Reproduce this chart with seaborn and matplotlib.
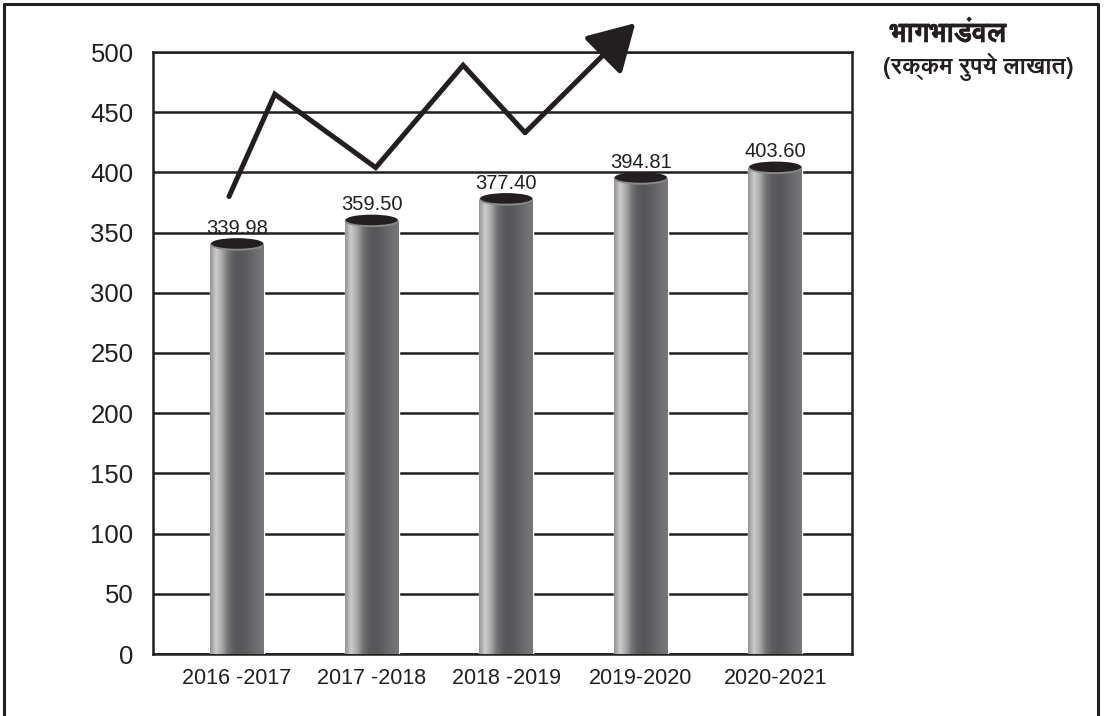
import numpy as np
import pandas as pd
import matplotlib
matplotlib.use("Agg")
import matplotlib.pyplot as plt
import seaborn as sns
from matplotlib.patches import Ellipse
from matplotlib.lines import Line2D
from matplotlib import font_manager as fm
from matplotlib.ft2font import FT2Font
import matplotlib.patheffects as pe

# ---------------- data ----------------
years = ["2016 -2017", "2017 -2018", "2018 -2019", "2019-2020", "2020-2021"]
capital = [339.98, 359.50, 377.40, 394.81, 403.60]
value_labels = ["339.98", "359.50", "377.40", "394.81", "403.60"]
y_ticks = [0, 50, 100, 150, 200, 250, 300, 350, 400, 450, 500]
title_text = "भागभाडंवल"
subtitle_text = "(रक्कम रुपये लाखात)"
# decorative trend arrow (x in category units, y in axis units)
trend_x = [-0.06, 0.28, 1.03, 1.68, 2.14, 2.96]
trend_y = [380, 465, 404, 489, 433, 524]

# ---------------- fonts ----------------
sns.set_theme(style="white")
plt.rcParams['font.family'] = ['Liberation Sans', 'DejaVu Sans']

deva_regular, deva_bold = None, None
for f in fm.fontManager.ttflist:
    try:
        ft = FT2Font(f.fname)
        if ft.get_char_index(0x092D) and ft.get_char_index(0x0932):
            w = f.weight if isinstance(f.weight, int) else (700 if 'bold' in str(f.weight).lower() else 400)
            if w >= 600 and deva_bold is None:
                deva_bold = f.name
            if deva_regular is None:
                deva_regular = f.name
    except Exception:
        pass
deva_family = deva_bold or deva_regular
deva_fams = ([deva_family] if deva_family else []) + ['Liberation Sans', 'DejaVu Sans']
stroke_w = 0.3 if deva_bold else 0.9
fake_bold = [pe.withStroke(linewidth=stroke_w, foreground='#231f20')]

# ---------------- figure ----------------
fig = plt.figure(figsize=(11.08, 7.16), dpi=100)
ax = fig.add_axes([153/1108, 1-654/716, (852-153)/1108, (654-52)/716])

df = pd.DataFrame({"year": years, "value": capital})
sns.barplot(data=df, x="year", y="value", color="#5a5a5b", width=0.40,
            ax=ax, zorder=3, saturation=1)

# cylinder shading
grad_cols = np.array([
    [0.58, 0.58, 0.59], [0.80, 0.80, 0.80], [0.66, 0.66, 0.66],
    [0.45, 0.45, 0.46], [0.36, 0.36, 0.37], [0.34, 0.34, 0.35],
    [0.36, 0.36, 0.37], [0.40, 0.40, 0.41], [0.44, 0.44, 0.45],
    [0.47, 0.47, 0.48],
])
xs = np.linspace(0, 1, len(grad_cols))
xi = np.linspace(0, 1, 200)
grad = np.stack([np.interp(xi, xs, grad_cols[:, c]) for c in range(3)], axis=-1)[None, :, :]

ell_h = 10.0
for patch in ax.patches[:len(capital)]:
    x0 = patch.get_x()
    w = patch.get_width()
    h = patch.get_height()
    im = ax.imshow(grad, extent=[x0, x0 + w, 0, h], aspect='auto', zorder=3.5,
                   interpolation='bilinear')
    im.set_clip_path(patch)
    cx = x0 + w / 2
    ax.add_patch(Ellipse((cx, h), w, ell_h, facecolor='#8a8a8a', edgecolor='none', zorder=4))
    ax.add_patch(Ellipse((cx, h + 1.0), w * 0.97, ell_h * 0.88, facecolor='#231f20',
                         edgecolor='none', zorder=4.2))

for i, (v, lab) in enumerate(zip(capital, value_labels)):
    ax.annotate(lab, (i, v), xytext=(0, 5), textcoords='offset points',
                ha='center', va='bottom', fontsize=14.5, color='#231f20', zorder=6)

# decorative trend arrow
ax.plot(trend_x[:-1], trend_y[:-1], color='#231f20', lw=3.6, solid_joinstyle='miter',
        zorder=5, clip_on=False)
ax.annotate('', xy=(trend_x[-1], trend_y[-1]), xytext=(trend_x[-2], trend_y[-2]),
            arrowprops=dict(arrowstyle='-|>,head_length=0.95,head_width=0.55', lw=3.6,
                            color='#231f20', mutation_scale=30, shrinkA=0, shrinkB=0),
            annotation_clip=False, zorder=5)

ax.set_xlim(-0.625, 4.57)
ax.set_ylim(0, 500)
ax.set_yticks(y_ticks)
ax.set_yticklabels([str(t) for t in y_ticks], fontsize=18.5, color='#231f20')
ax.tick_params(axis='y', length=0, pad=14)
ax.tick_params(axis='x', length=0, pad=10, labelsize=15.5, labelcolor='#231f20')
ax.set_xlabel("")
ax.set_ylabel("")
ax.grid(axis='y', color='#231f20', lw=1.8)
ax.grid(axis='x', visible=False)
ax.set_axisbelow(True)
for s in ax.spines.values():
    s.set_visible(True)
    s.set_color('#231f20')
    s.set_linewidth(1.8)

# titles
fig.text(948/1108, 1-34/716, title_text, ha='center', va='center', fontsize=20,
         fontweight='bold', color='#231f20', family=deva_fams, path_effects=fake_bold)
fig.text(978/1108, 1-67/716, subtitle_text, ha='center', va='center', fontsize=17,
         fontweight='bold', color='#231f20', family=deva_fams)

# outer frame (left, top, right)
fx = [4/1108, 4/1108, 1098/1108, 1098/1108]
fy = [0, 1-4/716, 1-4/716, 0]
fig.add_artist(Line2D(fx, fy, transform=fig.transFigure, color='#231f20', lw=2.2))

fig.savefig("out.png", dpi=100)
